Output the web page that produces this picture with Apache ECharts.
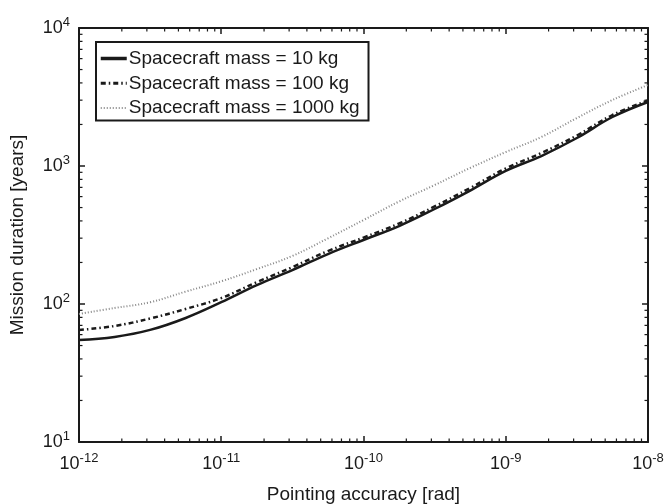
<!DOCTYPE html>
<html><head><meta charset="utf-8">
<script src="https://cdn.jsdelivr.net/npm/echarts@6/dist/echarts.min.js"></script>
<style>html,body{margin:0;padding:0;background:#fff}#c{width:668px;height:504px}</style>
</head><body><div id="c"></div>
<script>
const pointing = [1e-12, 1.778e-12, 3.162e-12, 5.623e-12, 1e-11, 1.778e-11, 3.162e-11, 5.623e-11, 1e-10, 1.778e-10, 3.162e-10, 5.623e-10, 1e-9, 1.778e-9, 3.162e-9, 5.623e-9, 1e-8];
const mass10 = [54.8, 57.7, 64.9, 79.2, 103, 137, 176, 230, 291, 367, 488, 664, 921, 1181, 1595, 2265, 2911];
const mass100 = [64.8, 69.3, 78.5, 92.1, 110.4, 144, 185, 242, 303, 383, 509, 693, 960, 1241, 1664, 2342, 2985];
const mass1000 = [84.7, 93.5, 103, 123, 146, 179, 223, 299, 406, 553, 728, 968, 1262, 1622, 2228, 3008, 3863];
const seriesNames = ['Spacecraft mass = 10 kg', 'Spacecraft mass = 100 kg', 'Spacecraft mass = 1000 kg'];
const xTickExponents = [-12, -11, -10, -9, -8];
const yTickExponents = [1, 2, 3, 4];
const xTitle = 'Pointing accuracy [rad]';
const yTitle = 'Mission duration [years]';

const FONT = 'Liberation Sans, Arial, Helvetica, sans-serif';
const INK = '#1a1a1a';
const GREY = '#888888';

function pairs(ys) { return pointing.map((x, i) => [x, ys[i]]); }
function expLabel(v) {
  const e = Math.round(Math.log10(v));
  return '{b|10}{s|' + e + '}';
}
const rich = {
  b: { fontSize: 18, color: INK, fontFamily: FONT },
  s: { fontSize: 13, color: INK, fontFamily: FONT, padding: [0, 0, 12, 0] }
};

// minor tick positions (axis decoration)
const minorData = [];
for (let e = xTickExponents[0]; e < xTickExponents[xTickExponents.length - 1]; e++) {
  for (let m = 2; m <= 9; m++) minorData.push([m * Math.pow(10, e), Math.pow(10, yTickExponents[0]), 0]);
}
for (let e = yTickExponents[0]; e < yTickExponents[yTickExponents.length - 1]; e++) {
  for (let m = 2; m <= 9; m++) minorData.push([Math.pow(10, xTickExponents[0]), m * Math.pow(10, e), 1]);
}

const xMin = Math.pow(10, xTickExponents[0]), xMax = Math.pow(10, xTickExponents[xTickExponents.length - 1]);
const yMin = Math.pow(10, yTickExponents[0]), yMax = Math.pow(10, yTickExponents[yTickExponents.length - 1]);

const axisBase = {
  type: 'log', logBase: 10,
  axisLine: { show: true, onZero: false, lineStyle: { color: INK, width: 2 } },
  axisTick: { show: true, inside: true, length: 6, lineStyle: { color: INK, width: 1.5 } },
  splitLine: { show: false },
  minorTick: { show: false },
};

const chart = echarts.init(document.getElementById('c'), null, { renderer: 'canvas' });
chart.setOption({
  animation: false,
  backgroundColor: '#fff',
  grid: { left: 79, right: 20, top: 28, bottom: 62, containLabel: false, outerBoundsMode: 'none' },
  legend: {
    left: 96, top: 42, orient: 'vertical',
    data: [
      { name: seriesNames[0], lineStyle: { width: 3.5 } },
      { name: seriesNames[1], lineStyle: { width: 3 } },
      { name: seriesNames[2], lineStyle: { width: 2 } },
    ],
    backgroundColor: '#fff',
    borderColor: INK, borderWidth: 2, borderRadius: 0,
    padding: [7, 9, 3, 3],
    itemWidth: 26, itemHeight: 14, itemGap: 5.8,
    itemStyle: { opacity: 0 },
    textStyle: { fontSize: 19, lineHeight: 19, color: INK, fontFamily: FONT, padding: [0, 0, 0, -3] },
  },
  xAxis: [
    Object.assign({}, axisBase, {
      position: 'bottom', min: xMin, max: xMax,
      name: xTitle, nameLocation: 'middle', nameGap: 43,
      nameTextStyle: { fontSize: 19, color: INK, fontFamily: FONT },
      axisLabel: { formatter: expLabel, rich: rich, margin: 10 },
    }),
    Object.assign({}, axisBase, {
      position: 'top', min: xMin, max: xMax, axisLabel: { show: false },
    }),
  ],
  yAxis: [
    Object.assign({}, axisBase, {
      position: 'left', min: yMin, max: yMax,
      name: yTitle, nameLocation: 'middle', nameGap: 52, nameRotate: 90,
      nameTextStyle: { fontSize: 19, color: INK, fontFamily: FONT },
      axisLabel: { formatter: expLabel, rich: rich, margin: 9 },
    }),
    Object.assign({}, axisBase, {
      position: 'right', min: yMin, max: yMax, axisLabel: { show: false },
    }),
  ],
  series: [
    {
      name: seriesNames[0], type: 'line', data: pairs(mass10), smooth: 0.4,
      showSymbol: false, symbol: 'none', color: INK,
      lineStyle: { color: INK, width: 2.5, type: 'solid' }, z: 3,
    },
    {
      name: seriesNames[1], type: 'line', data: pairs(mass100), smooth: 0.4,
      showSymbol: false, symbol: 'none', color: INK,
      lineStyle: { color: INK, width: 2.5, type: [5, 3, 1.5, 3] }, z: 4,
    },
    {
      name: seriesNames[2], type: 'line', data: pairs(mass1000), smooth: 0.4,
      showSymbol: false, symbol: 'none', color: GREY,
      lineStyle: { color: GREY, width: 2, type: [1, 2] }, z: 2,
    },
    {
      type: 'custom', silent: true, clip: false, z: 10,
      data: minorData,
      renderItem: function (params, api) {
        const cs = params.coordSys;
        const kind = api.value(2);
        const p = api.coord([api.value(0), api.value(1)]);
        const st = { stroke: INK, lineWidth: 1.2 };
        const L = 3.5;
        if (kind === 0) {
          return { type: 'group', children: [
            { type: 'line', shape: { x1: p[0], y1: cs.y + cs.height, x2: p[0], y2: cs.y + cs.height - L }, style: st },
            { type: 'line', shape: { x1: p[0], y1: cs.y, x2: p[0], y2: cs.y + L }, style: st },
          ]};
        }
        return { type: 'group', children: [
          { type: 'line', shape: { x1: cs.x, y1: p[1], x2: cs.x + L, y2: p[1] }, style: st },
          { type: 'line', shape: { x1: cs.x + cs.width, y1: p[1], x2: cs.x + cs.width - L, y2: p[1] }, style: st },
        ]};
      },
    },
  ],
});
</script>
</body></html>
